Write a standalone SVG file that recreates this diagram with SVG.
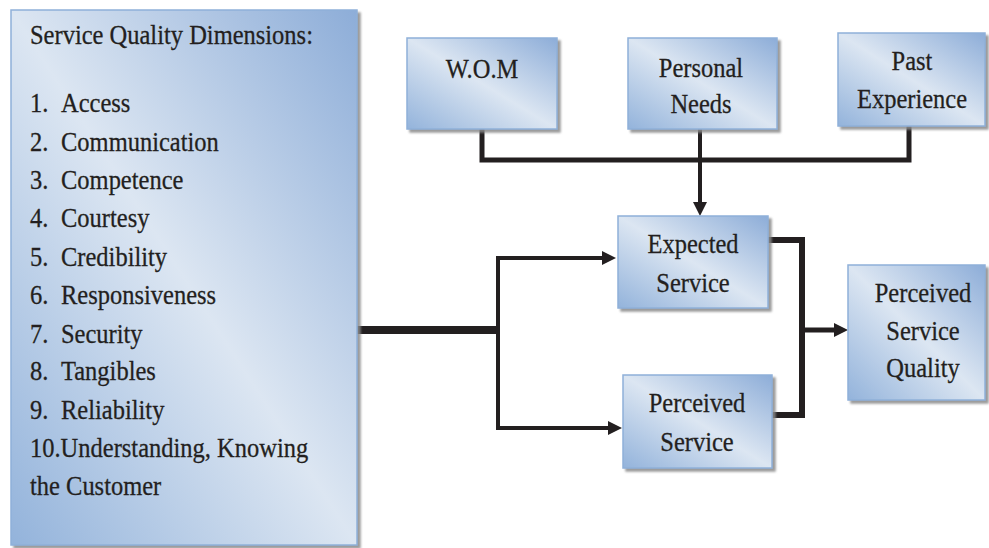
<svg xmlns="http://www.w3.org/2000/svg" width="989" height="548" viewBox="0 0 989 548">
  <defs>
    <linearGradient id="boxFill" x1="1" y1="0" x2="0" y2="1">
      <stop offset="0" stop-color="#8dadd8"/>
      <stop offset="0.5" stop-color="#dce6f2"/>
      <stop offset="1" stop-color="#93b3db"/>
    </linearGradient>
    <filter id="shadow" x="-10%" y="-10%" width="130%" height="130%">
      <feDropShadow dx="3" dy="3" stdDeviation="0.8" flood-color="#8a8a8a" flood-opacity="0.85"/>
    </filter>
    <marker id="arrow" markerUnits="userSpaceOnUse" markerWidth="16" markerHeight="16" refX="4" refY="8" orient="auto">
      <path d="M0,1 L14,8 L0,15 z" fill="#231f20"/>
    </marker>
    <style>
      .box { fill: url(#boxFill); stroke: #8fb0d9; stroke-width: 1.5; filter: url(#shadow); }
      .lbl { font-family: "Liberation Serif", "Times New Roman", serif; font-size: 24.5px; fill: #231f20; stroke: #231f20; stroke-width: 0.25; }
      .mid { text-anchor: middle; }
      .wire { fill: none; stroke: #231f20; stroke-linejoin: miter; stroke-linecap: butt; }
    </style>
  </defs>

  <rect width="989" height="548" fill="#ffffff"/>

  <!-- connectors -->
  <g id="connectors">
    <path class="wire" d="M482,129 V160 H909 V126" stroke-width="5"/>
    <path class="wire" d="M700,129 V206" stroke-width="4" marker-end="url(#arrow)"/>
    <path class="wire" d="M357,330 H498" stroke-width="8"/>
    <path class="wire" d="M606,258 H498 V428 H612" stroke-width="4" marker-end="url(#arrow)"/>
    <path class="wire" d="M498,258 H606" stroke-width="4" marker-end="url(#arrow)"/>
    <path class="wire" d="M768,240 H802 V415 H772" stroke-width="6"/>
    <path class="wire" d="M802,330 H838" stroke-width="5" marker-end="url(#arrow)"/>
  </g>

  <!-- dimensions list (text slightly tall: each line is stretched vertically) -->
  <g id="dimensions">
    <rect class="box" x="11" y="10" width="346" height="535"/>
    <text class="lbl" transform="translate(30 44) scale(1 1.15)">Service Quality Dimensions:</text>
    <g class="lbl">
      <text transform="translate(30 112) scale(1 1.15)">1.</text><text transform="translate(61 112) scale(1 1.15)">Access</text>
      <text transform="translate(30 151) scale(1 1.15)">2.</text><text transform="translate(61 151) scale(1 1.15)">Communication</text>
      <text transform="translate(30 189) scale(1 1.15)">3.</text><text transform="translate(61 189) scale(1 1.15)">Competence</text>
      <text transform="translate(30 227) scale(1 1.15)">4.</text><text transform="translate(61 227) scale(1 1.15)">Courtesy</text>
      <text transform="translate(30 266) scale(1 1.15)">5.</text><text transform="translate(61 266) scale(1 1.15)">Credibility</text>
      <text transform="translate(30 304) scale(1 1.15)">6.</text><text transform="translate(61 304) scale(1 1.15)">Responsiveness</text>
      <text transform="translate(30 343) scale(1 1.15)">7.</text><text transform="translate(61 343) scale(1 1.15)">Security</text>
      <text transform="translate(30 380) scale(1 1.15)">8.</text><text transform="translate(61 380) scale(1 1.15)">Tangibles</text>
      <text transform="translate(30 419) scale(1 1.15)">9.</text><text transform="translate(61 419) scale(1 1.15)">Reliability</text>
      <text transform="translate(30 457) scale(1 1.15)">10.Understanding, Knowing</text>
      <text transform="translate(30 495) scale(1 1.15)">the Customer</text>
    </g>
  </g>

  <g id="wom">
    <rect class="box" x="407" y="38" width="150" height="91"/>
    <text class="lbl mid" transform="translate(482 78) scale(1 1.15)">W.O.M</text>
  </g>

  <g id="personal-needs">
    <rect class="box" x="628" y="38" width="149" height="91"/>
    <text class="lbl mid" transform="translate(701 77) scale(1 1.15)">Personal</text>
    <text class="lbl mid" transform="translate(701 113) scale(1 1.15)">Needs</text>
  </g>

  <g id="past-experience">
    <rect class="box" x="838" y="33" width="147" height="93"/>
    <text class="lbl mid" transform="translate(912 70) scale(1 1.15)">Past</text>
    <text class="lbl mid" transform="translate(912 108) scale(1 1.15)">Experience</text>
  </g>

  <g id="expected-service">
    <rect class="box" x="618" y="216" width="150" height="92"/>
    <text class="lbl mid" transform="translate(693 253) scale(1 1.15)">Expected</text>
    <text class="lbl mid" transform="translate(693 292) scale(1 1.15)">Service</text>
  </g>

  <g id="perceived-service">
    <rect class="box" x="623" y="375" width="149" height="93"/>
    <text class="lbl mid" transform="translate(697 412) scale(1 1.15)">Perceived</text>
    <text class="lbl mid" transform="translate(697 451) scale(1 1.15)">Service</text>
  </g>

  <g id="perceived-service-quality">
    <rect class="box" x="848" y="265" width="137" height="135"/>
    <text class="lbl mid" transform="translate(923 302) scale(1 1.15)">Perceived</text>
    <text class="lbl mid" transform="translate(923 340) scale(1 1.15)">Service</text>
    <text class="lbl mid" transform="translate(923 377) scale(1 1.15)">Quality</text>
  </g>
</svg>
